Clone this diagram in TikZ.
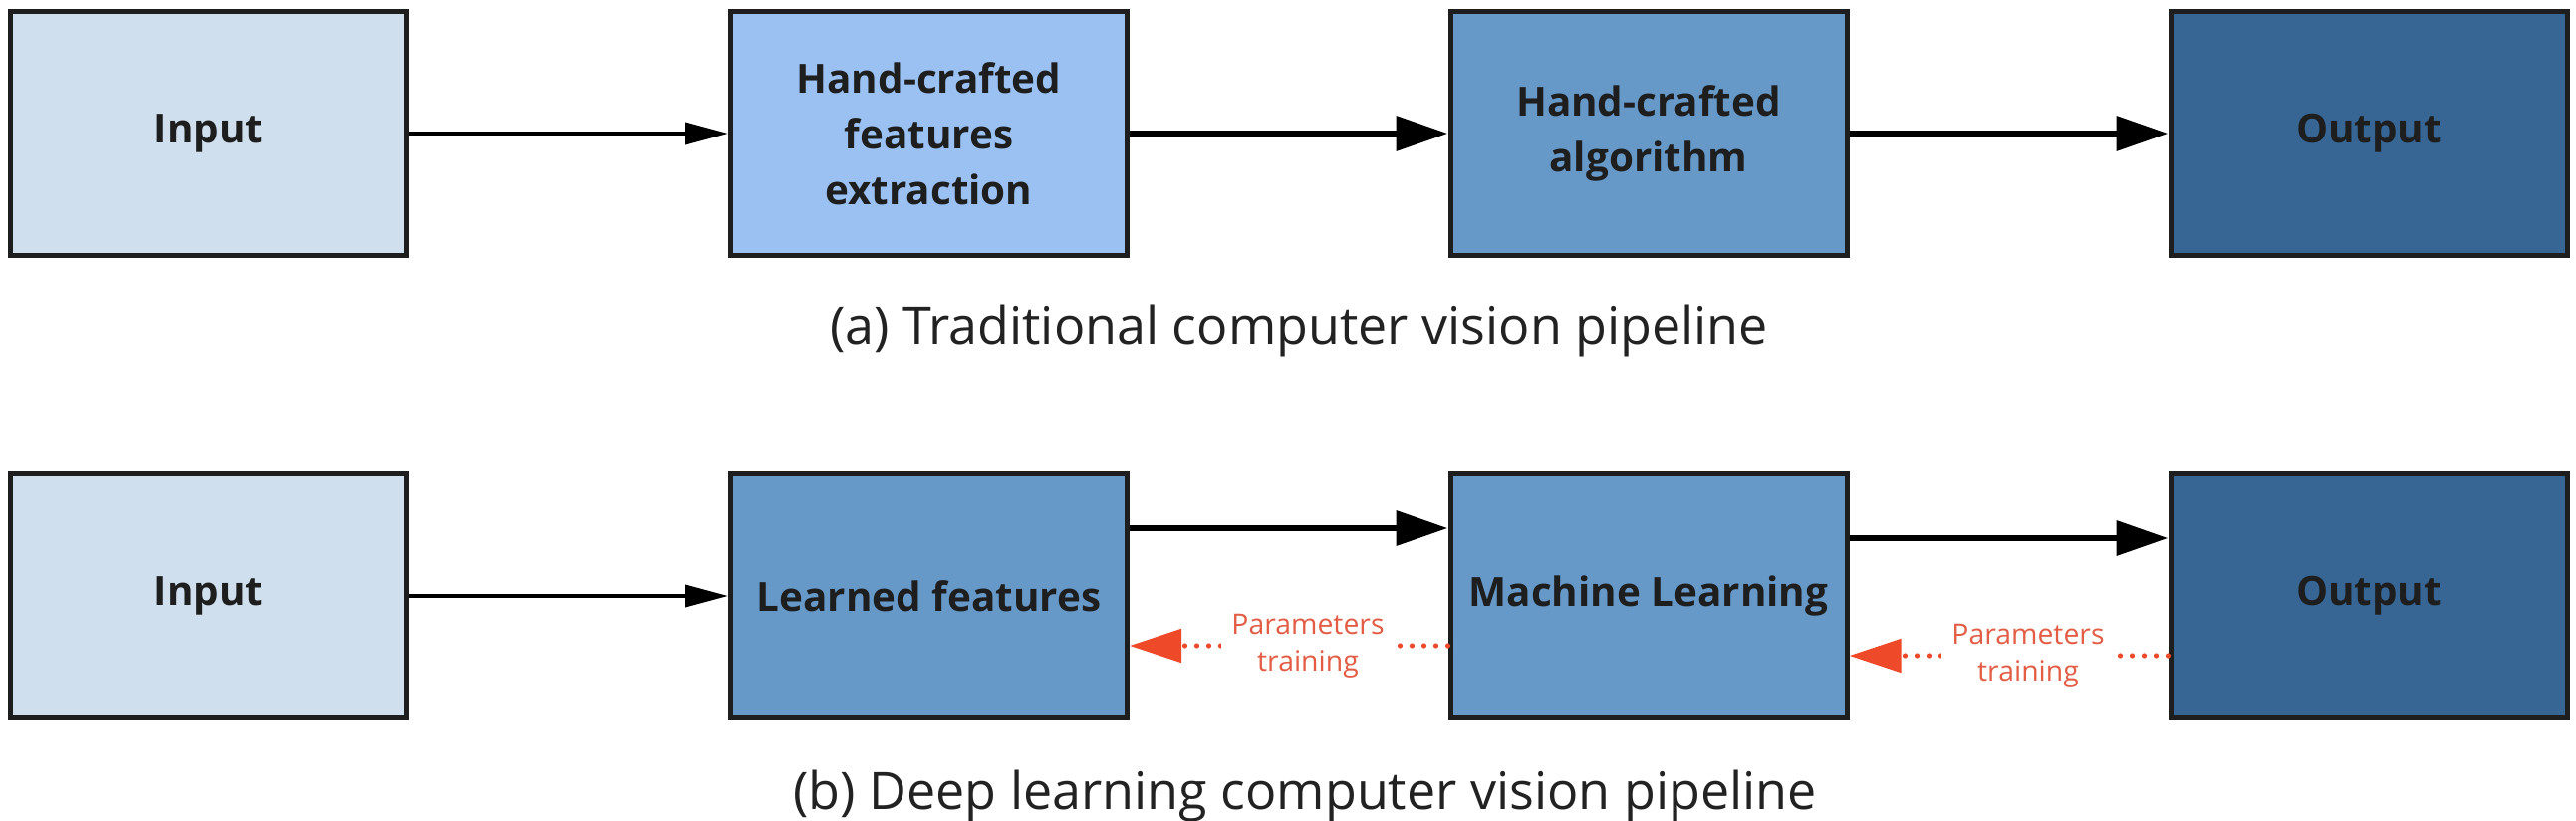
\documentclass[tikz,border=0pt]{standalone}
\usepackage{fontspec}
\setmainfont{Open Sans}
\usetikzlibrary{arrows.meta}
\definecolor{cLight}{HTML}{CFDFEE}
\definecolor{cHC}{HTML}{9AC1F2}
\definecolor{cMid}{HTML}{6698C8}
\definecolor{cDark}{HTML}{376695}
\definecolor{cBorder}{HTML}{1E1E1E}
\definecolor{cText}{HTML}{1E1E1E}
\definecolor{cCap}{HTML}{222222}
\definecolor{cRed}{HTML}{EE4A2A}
\definecolor{cRedText}{HTML}{E35D45}
\begin{document}
\begin{tikzpicture}[x=0.5pt,y=-0.5pt,
  box/.style={draw=cBorder,line width=2.5pt,minimum width=199pt,minimum height=122.5pt,
    inner sep=0pt,align=center,font=\fontsize{20.2}{28}\selectfont\bfseries,text=cText},
  thinarr/.style={draw=black,line width=1.8pt,-{Triangle[length=21.5pt,width=11pt]}},
  thickarr/.style={draw=black,line width=3.4pt,-{Triangle[length=26pt,width=17pt]}},
  redarr/.style={draw=cRed,line width=2.6pt,line cap=round,dash pattern=on 0pt off 6pt,
    -{Triangle[length=26pt,width=16.5pt]}},
  lbl/.style={fill=white,text=cRedText,align=center,font=\fontsize{14.2}{18.5}\selectfont,
    inner xsep=5pt,inner ysep=1pt},
  captext/.style={font=\fontsize{26}{31}\selectfont,text=cCap,inner sep=0pt}]
\useasboundingbox (0,0) rectangle (2586,824);

% top row
\node[box,fill=cLight] (in1)  at (209.5,134) {Input};
\node[box,fill=cHC]    (hc1)  at (932.5,134) {Hand-crafted\\features\\extraction};
\node[box,fill=cMid]   (hc2)  at (1655,134)  {Hand-crafted\\algorithm};
\node[box,fill=cDark]  (out1) at (2378,134)  {Output};

\draw[thinarr]  (in1) -- (hc1);
\draw[thickarr] (hc1) -- (hc2);
\draw[thickarr] (hc2) -- (out1);

\node[captext,anchor=base] (capa) at (1304,345) {(a) Traditional computer vision pipeline};

% bottom row
\node[box,fill=cLight] (in2)  at (209.5,598) {Input};
\node[box,fill=cMid]   (lf)   at (932.5,598) {Learned features};
\node[box,fill=cMid]   (ml)   at (1655,598)  {Machine Learning};
\node[box,fill=cDark]  (out2) at (2378,598)  {Output};

\draw[thinarr]  (in2) -- (lf);
\draw[thickarr] ([yshift=34pt]lf.east) -- ([yshift=34pt]ml.west);
\draw[thickarr] ([yshift=29pt]ml.east) -- ([yshift=29pt]out2.west);

\draw[redarr] ([yshift=-25pt]ml.west) -- ([yshift=-25pt]lf.east);
\draw[redarr] ([yshift=-30pt]out2.west) -- ([yshift=-30pt]ml.east);
\node[lbl] (p1) at (1313,648) {Parameters\\training};
\node[lbl] (p2) at (2036,658) {Parameters\\training};

\node[captext,anchor=base] (capb) at (1310,812) {(b) Deep learning computer vision pipeline};
\end{tikzpicture}
\end{document}
